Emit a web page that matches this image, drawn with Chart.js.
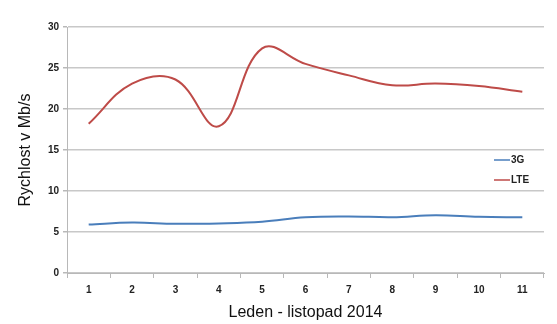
<!DOCTYPE html>
<html>
<head>
<meta charset="utf-8">
<script src="https://cdn.jsdelivr.net/npm/chart.js@4"></script>
<style>
  html, body { margin: 0; padding: 0; background: #fff; }
  #wrap { width: 557px; height: 324px; }
</style>
</head>
<body>
<div id="wrap"><canvas id="graf"></canvas></div>
<script>
// data
const mesice = ['1', '2', '3', '4', '5', '6', '7', '8', '9', '10', '11'];
const hodnoty3G = [5.9, 6.15, 6.0, 6.05, 6.25, 6.8, 6.9, 6.8, 7.05, 6.85, 6.8];
const hodnotyLTE = [18.2, 23.1, 23.6, 17.9, 27.4, 25.5, 24.1, 22.9, 23.1, 22.8, 22.1];
const nazvySerii = ['3G', 'LTE'];
const barvy = ['#4a7ebb', '#be4b48'];

(function() {
    const ctx = document.getElementById('graf');

    // vlastní legenda uvnitř grafu (vpravo)
    const legenda = {
        id: 'legenda',
        afterDraw(chart) {
            const c = chart.ctx;
            c.save();
            chart.data.datasets.forEach((ds, i) => {
                const y = 160 + i * 20;
                c.strokeStyle = ds.borderColor;
                c.lineWidth = 1.5;
                c.beginPath();
                c.moveTo(494, y);
                c.lineTo(510, y);
                c.stroke();
                c.fillStyle = '#222';
                c.font = 'bold 10px "Liberation Sans", Arial';
                c.textBaseline = 'middle';
                c.fillText(ds.label, 511, y);
            });
            c.restore();
        }
    };

    new Chart(ctx, {
        type: 'line',
        data: {
            labels: mesice,
            datasets: [{
                label: nazvySerii[0],
                data: hodnoty3G,
                borderColor: barvy[0],
                borderWidth: 2,
                pointRadius: 0,
                tension: 0.4,
                fill: false
            }, {
                label: nazvySerii[1],
                data: hodnotyLTE,
                borderColor: barvy[1],
                borderWidth: 2,
                pointRadius: 0,
                tension: 0.4,
                fill: false
            }]
        },
        options: {
            responsive: true,
            maintainAspectRatio: false,
            animation: false,
            layout: { padding: { left: 16, right: 13, top: 27, bottom: 2 } },
            scales: {
                x: {
                    offset: true,
                    grid: {
                        offset: true,
                        drawOnChartArea: false,
                        drawTicks: true,
                        tickLength: 5,
                        color: '#b8b8b8'
                    },
                    border: { color: '#b8b8b8', width: 1 },
                    ticks: {
                        color: '#222',
                        font: { family: '"Liberation Sans", Arial', size: 10, weight: 'bold' },
                        padding: 6,
                        maxRotation: 0
                    },
                    title: {
                        display: true,
                        text: 'Leden - listopad 2014',
                        color: '#111',
                        font: { family: '"Liberation Sans", Arial', size: 16 },
                        padding: { top: 10, bottom: 0 }
                    },
                    afterFit(scale) { scale.height = 49; }
                },
                y: {
                    min: 0,
                    max: 30,
                    ticks: {
                        stepSize: 5,
                        color: '#222',
                        font: { family: '"Liberation Sans", Arial', size: 10, weight: 'bold' },
                        padding: 4
                    },
                    grid: {
                        color: '#c8c8c8',
                        lineWidth: 1.5,
                        tickLength: 4,
                        tickColor: '#b8b8b8'
                    },
                    border: { color: '#b8b8b8', width: 1 },
                    title: {
                        display: true,
                        text: 'Rychlost v Mb/s',
                        color: '#111',
                        font: { family: '"Liberation Sans", Arial', size: 16 },
                        padding: { top: 0, bottom: 8 }
                    },
                    afterFit(scale) { scale.width = 51; }
                }
            },
            plugins: {
                legend: { display: false },
                tooltip: { enabled: false }
            }
        },
        plugins: [legenda]
    });
})();
</script>
</body>
</html>
